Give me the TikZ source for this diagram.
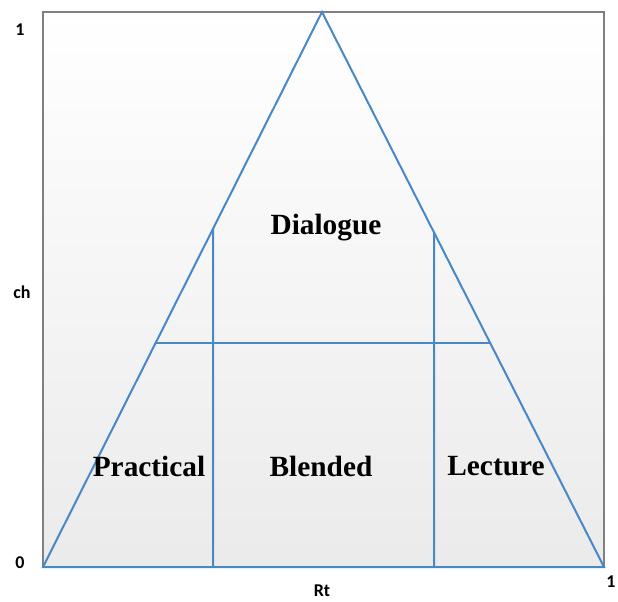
\documentclass[tikz,border=0pt]{standalone}
\usepackage{fontspec}
\setmainfont{Liberation Serif}
\newfontfamily\axisfont{Carlito}
\usetikzlibrary{calc}
\definecolor{lineblue}{RGB}{70,136,200}
\definecolor{framegray}{RGB}{128,128,128}
\tikzset{
  blueline/.style={draw=lineblue, line width=1.5pt},
  frameline/.style={draw=framegray, line width=1.5pt},
  region/.style={font=\bfseries\fontsize{22}{24}\selectfont, inner sep=0pt},
  axislabel/.style={font=\axisfont\bfseries\fontsize{13.5}{15}\selectfont, inner sep=0pt}
}
\begin{document}
\begin{tikzpicture}[x=0.75pt,y=-0.75pt]
\useasboundingbox (0,0) rectangle (618,601);
\shade[top color=white, bottom color=black!8] (43,12) rectangle (604,567);
\coordinate (bl) at (43,567);
\coordinate (br) at (604,567);
\coordinate (tl) at (43,12);
\coordinate (tr) at (604,12);
\coordinate (apex) at (322,12);
\draw[frameline] (bl) -- (tl) -- (tr) -- (br);
% triangle
\draw[blueline, line join=miter] (bl) -- (apex) -- (br) -- cycle;
% horizontal divider
\coordinate (hl) at ($(bl)!{224/555}!(apex)$);
\coordinate (hr) at ($(br)!{224/555}!(apex)$);
\draw[blueline] (hl) -- (hr);
% vertical dividers
\coordinate (vlb) at (213,567);
\coordinate (vrb) at (434,567);
\coordinate (vlt) at ($(bl)!{(213-43)/279}!(apex)$);
\coordinate (vrt) at ($(br)!{(604-434)/282}!(apex)$);
\draw[blueline] (vlb) -- (vlt);
\draw[blueline] (vrb) -- (vrt);
% region labels
\node[region] (dialogue) at (326,228) {Dialogue};
\node[region] (practical) at (149,466) {Practical};
\node[region] (blended) at (321,466) {Blended};
\node[region] (lecture) at (496,466) {Lecture};
% axis labels
\node[axislabel] (y1) at (20,30) {1};
\node[axislabel] (ych) at (22,292) {ch};
\node[axislabel] (y0) at (20,563) {0};
\node[axislabel] (xrt) at (322,591) {Rt};
\node[axislabel] (x1) at (611,582) {1};
\end{tikzpicture}
\end{document}
